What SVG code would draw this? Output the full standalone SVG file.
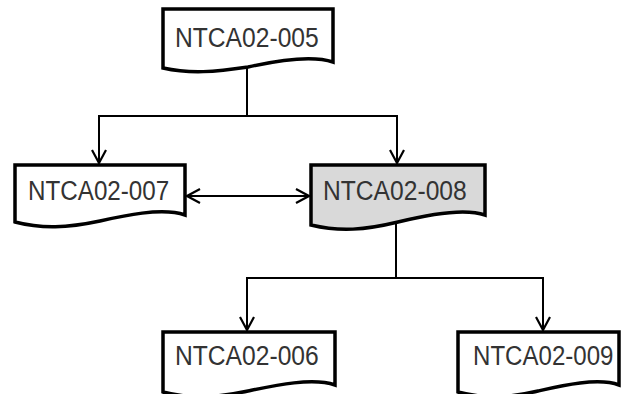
<svg xmlns="http://www.w3.org/2000/svg" width="623" height="394" viewBox="0 0 623 394">
<defs>
<style>
.box{stroke:#000;stroke-width:3.5;fill:#fff;stroke-linejoin:miter}
.sel{fill:#d9d9d9}
.lbl{font-family:"Liberation Sans",Arial,sans-serif;font-size:28px;fill:#333}
.con{stroke:#000;stroke-width:2;fill:none}
</style>
<marker id="arr" viewBox="0 0 16 16" refX="14" refY="8" markerWidth="16" markerHeight="16" markerUnits="userSpaceOnUse" orient="auto-start-reverse">
<path d="M1,1 L14,8 L1,15" fill="none" stroke="#000" stroke-width="2.2"/>
</marker>
</defs>
<rect width="623" height="394" fill="#fff"/>
<g id="connectors">
<polyline class="con" points="247,68 247,116"/>
<polyline class="con" points="99,163 99,116 397,116 397,163" marker-start="url(#arr)" marker-end="url(#arr)"/>
<line class="con" x1="187" y1="196" x2="309" y2="196" marker-start="url(#arr)" marker-end="url(#arr)"/>
<polyline class="con" points="396,222 396,278"/>
<polyline class="con" points="247,330 247,278 543,278 543,330" marker-start="url(#arr)" marker-end="url(#arr)"/>
</g>
<g id="n005">
<path class="box" d="M163,68 V9 H333 V62 C310,54 270,62 248,67 C215,72 190,74 163,68 Z"/>
<text class="lbl" transform="translate(175,47) scale(0.88,1)">NTCA02-005</text>
</g>
<g id="n007">
<path class="box" d="M15,222 V165 H185 V215 C162,207 122,216 100,221 C67,228 42,229 15,222 Z"/>
<text class="lbl" transform="translate(28,200) scale(0.865,1)">NTCA02-007</text>
</g>
<g id="n008">
<path class="box sel" d="M311,225 V165 H485 V215 C462,207 422,216 398,222 C365,230 340,232 311,225 Z"/>
<text class="lbl" transform="translate(323,200) scale(0.88,1)">NTCA02-008</text>
</g>
<g id="n006">
<path class="box" d="M163,392 V332 H335 V385 C312,377 272,386 248,391 C215,398 190,399 163,392 Z"/>
<text class="lbl" transform="translate(175,365) scale(0.88,1)">NTCA02-006</text>
</g>
<g id="n009">
<path class="box" d="M458,392 V332 H619 V385 C598,377 560,386 538,391 C508,398 485,399 458,392 Z"/>
<text class="lbl" transform="translate(473,365) scale(0.86,1)">NTCA02-009</text>
</g>
</svg>
